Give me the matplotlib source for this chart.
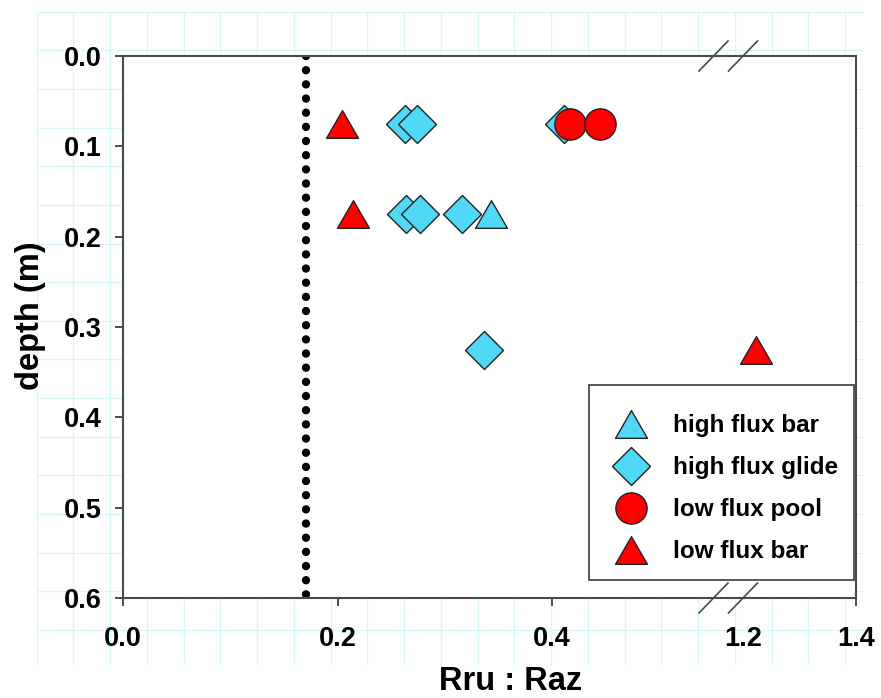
import matplotlib.pyplot as plt
import numpy as np
from matplotlib.path import Path
from matplotlib.lines import Line2D
from matplotlib.patches import Rectangle

plt.rcParams['font.family'] = ['Liberation Sans', 'DejaVu Sans']
plt.rcParams['font.weight'] = 'bold'

# Rru : Raz ratio (x) against depth in m (y)
hf_bar_x = [0.343]
hf_bar_y = [0.175]
hf_glide_x = [0.263, 0.274, 0.411, 0.264, 0.277, 0.316, 0.336]
hf_glide_y = [0.075, 0.075, 0.075, 0.175, 0.175, 0.175, 0.325]
lf_pool_x = [0.417, 0.445]
lf_pool_y = [0.075, 0.075]
lf_bar_x = [0.204, 0.214, 1.223]
lf_bar_y = [0.075, 0.175, 0.325]
threshold = 0.17

left_ticks = [0.0, 0.2, 0.4]
right_ticks = [1.2, 1.4]
depth_ticks = [0.0, 0.1, 0.2, 0.3, 0.4, 0.5, 0.6]

cyan = '#50d9f7'
red = '#ff0000'
edge = '#222222'
axcol = '#4a4a4a'

# equilateral-ish triangle marker, centred on its box
tri = Path([(-1, -0.866), (1, -0.866), (0, 0.866), (-1, -0.866)], closed=True)

W, H = 881, 698
fig = plt.figure(figsize=(W / 100, H / 100), dpi=100)

# faint graph-paper background
bg = fig.add_axes([0, 0, 1, 1], zorder=-5)
bg.set_xlim(0, W)
bg.set_ylim(H, 0)
bg.axis('off')
bg.vlines(36.7 + np.arange(23) * 36.75, 11.7, 665, color='#d6f7fa', lw=0.8)
bg.hlines(11.7 + np.arange(17) * 38.64, 36.7, 863, color='#d6f7fa', lw=0.8)

x0, xb, x1 = 123.3, 728, 856
y0, y1 = 56, 598
ax1 = fig.add_axes([x0 / W, 1 - y1 / H, (xb - x0) / W, (y1 - y0) / H])
ax2 = fig.add_axes([xb / W, 1 - y1 / H, (x1 - xb) / W, (y1 - y0) / H], sharey=ax1)
ax1.set_xlim(0, 0.564)
ax2.set_xlim(1.1735, 1.4)
ax1.set_ylim(0.6, 0.0)

for ax in (ax1, ax2):
    ax.plot(hf_glide_x, hf_glide_y, ls='none', marker='D', ms=19, mfc=cyan, mec=edge, mew=1.0,
            label='high flux glide', zorder=3)
    ax.plot(hf_bar_x, hf_bar_y, ls='none', marker=tri, ms=23, mfc=cyan, mec=edge, mew=1.0,
            label='high flux bar', zorder=4)
    ax.plot(lf_pool_x, lf_pool_y, ls='none', marker='o', ms=22.5, mfc=red, mec=edge, mew=1.0,
            label='low flux pool', zorder=4)
    ax.plot(lf_bar_x, lf_bar_y, ls='none', marker=tri, ms=23, mfc=red, mec=edge, mew=1.0,
            label='low flux bar', zorder=4)
    for s in ax.spines.values():
        s.set_color(axcol)
        s.set_linewidth(1.5)
    ax.tick_params(direction='out', length=5.8, width=1.4, color=axcol, labelsize=19.5)
    ax.tick_params(axis='x', pad=14)
    ax.tick_params(axis='y', pad=10)

ax1.plot([threshold, threshold], [0.0, 0.6], color='black', lw=6.0,
         ls=(0, (0.01, 1.69)), dash_capstyle='round', zorder=2)

ax1.spines['right'].set_visible(False)
ax2.spines['left'].set_visible(False)
ax1.set_xticks(left_ticks)
ax1.set_xticklabels(['%.1f' % v for v in left_ticks])
ax1.set_yticks(depth_ticks)
ax1.set_yticklabels(['%.1f' % v for v in depth_ticks])
ax2.set_xticks(right_ticks)
ax2.set_xticklabels(['%.1f' % v for v in right_ticks])
ax2.xaxis.get_major_ticks()[0].tick1line.set_visible(False)
ax2.tick_params(axis='y', left=False, labelleft=False)

ax1.set_xlabel('Rru : Raz', fontsize=23.5, fontweight='bold')
ax1.xaxis.set_label_coords(0.641, -0.125)
ax1.set_ylabel('depth (m)', fontsize=23.5, fontweight='bold')
ax1.yaxis.set_label_coords(-0.128, 0.52)

# axis break marks
for yy in (y0, y1):
    for xc in (713.5, 743):
        fig.add_artist(Line2D([(xc - 14.5) / W, (xc + 14.5) / W],
                              [1 - (yy + 15) / H, 1 - (yy - 15) / H],
                              color=axcol, lw=1.2, transform=fig.transFigure))

# legend box drawn separately so its size matches the original
fig.add_artist(Rectangle((589 / W, 1 - 580 / H), 265 / W, 195 / H, transform=fig.transFigure,
                         facecolor='white', edgecolor=axcol, lw=1.3, zorder=4))
h, l = ax1.get_legend_handles_labels()
order = [1, 0, 2, 3]
leg = fig.legend([h[i] for i in order], [l[i] for i in order],
                 loc='upper left', bbox_to_anchor=(613.7 / W, 1 - 414.3 / H),
                 fontsize=17.5, frameon=False, borderpad=0,
                 handlelength=1.4, handletextpad=1.03, labelspacing=0.78,
                 borderaxespad=0)

fig.savefig('out.png', dpi=100)
